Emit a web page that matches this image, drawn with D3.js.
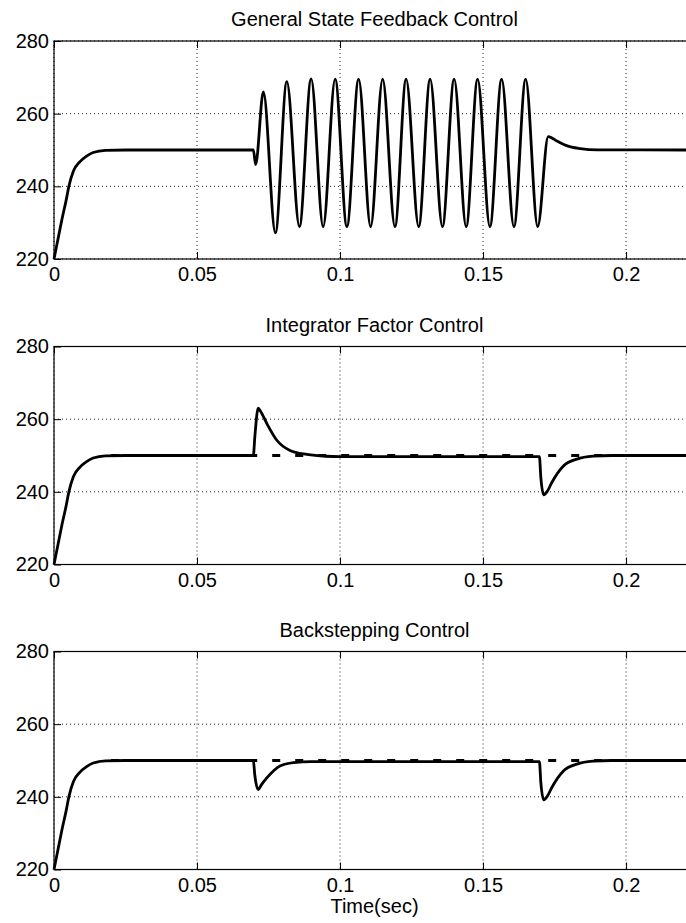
<!DOCTYPE html>
<html>
<head>
<meta charset="utf-8">
<script src="https://cdn.jsdelivr.net/npm/d3@7"></script>
<style>
  body { margin: 0; background: #fff; }
  svg { display: block; font-family: "Liberation Sans", Arial, sans-serif; }
</style>
</head>
<body>
<script>
// chart texts and ticks
var titles = ["General State Feedback Control", "Integrator Factor Control", "Backstepping Control"];
var xLabel = "Time(sec)";
var xTicks = [0, 0.05, 0.1, 0.15, 0.2];
var yTicks = [220, 240, 260, 280];

// reference voltage (dashed line), once the start-up is over  [time, value]
var refLine = [[0.02, 250], [0.225, 250]];

// start-up transient, the same in all three runs  [time, value]
var riseCurve = [
    [0, 220], [0.0014, 225.5], [0.0028, 231], [0.0042, 236], [0.0052, 240],
    [0.0068, 244.2], [0.0091, 246.8], [0.0114, 248.3], [0.0137, 249.3],
    [0.018, 249.9], [0.025, 250]
];

// general state feedback: sustained oscillation between 0.07 and 0.17
var stateFeedback = riseCurve.concat([
    [0.0697, 250], [0.0705, 246], [0.0732, 266], [0.0774, 227.2],
    [0.0814, 268.8], [0.0858, 228.9], [0.0899, 269.6], [0.0941, 228.9],
    [0.0983, 269.5], [0.1024, 228.9], [0.1065, 269.5], [0.1107, 228.9],
    [0.1149, 269.5], [0.1192, 228.9], [0.1231, 269.5], [0.1275, 228.9],
    [0.1315, 269.5], [0.1358, 228.9], [0.1399, 269.5], [0.1441, 228.9],
    [0.1481, 269.5], [0.1524, 228.9], [0.1565, 269.5], [0.1608, 228.9],
    [0.1649, 269.5], [0.1691, 228.9], [0.1728, 253.7], [0.176, 252.4],
    [0.1792, 251.2], [0.184, 250.4], [0.19, 250.05], [0.225, 250]
]);

// integrator factor: overshoot at 0.07, undershoot at 0.17
var integratorFactor = riseCurve.concat([
    [0.0697, 250], [0.0702, 255], [0.0714, 263], [0.0722, 262.2],
    [0.0744, 258.8], [0.0779, 254.2], [0.0825, 251.4], [0.0884, 250.3],
    [0.095, 249.8], [0.1, 249.7], [0.1697, 249.7], [0.1702, 244],
    [0.1712, 239.2], [0.1725, 240.2], [0.174, 242.5], [0.1781, 247.1],
    [0.1828, 249], [0.1885, 249.8], [0.195, 250], [0.225, 250]
]);

// backstepping: two undershoots
var backstepping = riseCurve.concat([
    [0.0697, 250], [0.0702, 246], [0.0714, 242], [0.0725, 243.3],
    [0.0744, 245.2], [0.079, 248.5], [0.0837, 249.4], [0.09, 249.7],
    [0.1697, 249.7], [0.1702, 244], [0.1712, 239.2], [0.1725, 240.2],
    [0.174, 242.5], [0.1781, 247.1], [0.1828, 249], [0.1885, 249.8],
    [0.195, 250], [0.225, 250]
]);

var series = [stateFeedback, integratorFactor, backstepping];
// the first plot shows no reference trace
var references = [null, refLine, refLine];

// layout properties
var p = {
    width: 686,
    height: 923,
    left: 54,
    right: 695,          // right border falls just outside the picture
    tops: [41, 346.5, 651.5],
    plotHeight: 218,
    xMax: 0.2241,
    font: 20,
    tickLen: 7,
    lineWidth: 2.8,
};

var svg = d3.select("body").append("svg")
    .attr("width", p.width)
    .attr("height", p.height);

svg.append("rect").attr("width", p.width).attr("height", p.height).attr("fill", "#fff");

var x = d3.scaleLinear().domain([0, p.xMax]).range([p.left, p.right]);

var line = d3.line()
    .x(function(d) { return x(d[0]); })
    .curve(d3.curveMonotoneX);

series.forEach(function(data, i) {
    var top = p.tops[i];
    var bottom = top + p.plotHeight;
    var y = d3.scaleLinear().domain([220, 280]).range([bottom, top]);
    var g = svg.append("g");

    // dotted grid
    g.selectAll(".gx").data(xTicks).enter().append("line")
        .attr("x1", function(d) { return x(d); }).attr("x2", function(d) { return x(d); })
        .attr("y1", top).attr("y2", bottom)
        .attr("stroke", "#222").attr("stroke-width", 1).attr("stroke-dasharray", "1,3");
    g.selectAll(".gy").data(yTicks).enter().append("line")
        .attr("x1", p.left).attr("x2", p.right)
        .attr("y1", function(d) { return y(d); }).attr("y2", function(d) { return y(d); })
        .attr("stroke", "#222").attr("stroke-width", 1).attr("stroke-dasharray", "1,3");

    // reference and response
    line.y(function(d) { return y(d[1]); });
    if (references[i]) {
        g.append("path")
            .attr("d", line(references[i]))
            .attr("fill", "none").attr("stroke", "#000").attr("stroke-width", p.lineWidth)
            .attr("stroke-dasharray", "8,15");
    }
    g.append("path")
        .attr("d", line(data))
        .attr("fill", "none").attr("stroke", "#000").attr("stroke-width", p.lineWidth)
        .attr("stroke-linejoin", "round");

    // axes with inward ticks
    g.append("g").attr("transform", "translate(0," + bottom + ")")
        .call(d3.axisBottom(x).tickValues(xTicks).tickSize(-p.tickLen).tickSizeOuter(0)
            .tickPadding(8).tickFormat(function(d) { return String(d); }));
    g.append("g").attr("transform", "translate(0," + top + ")")
        .call(d3.axisTop(x).tickValues(xTicks).tickSize(-p.tickLen).tickSizeOuter(0).tickFormat(""));
    g.append("g").attr("transform", "translate(" + p.left + ",0)")
        .call(d3.axisLeft(y).tickValues(yTicks).tickSize(-p.tickLen).tickSizeOuter(0).tickPadding(5));

    g.selectAll(".domain").remove();
    g.selectAll(".tick line").attr("stroke", "#000");
    g.selectAll(".tick text")
        .attr("fill", "#000")
        .style("font-size", p.font + "px")
        .style("font-family", "'Liberation Sans', Arial, sans-serif");

    // axes box
    g.append("rect")
        .attr("x", p.left).attr("y", top)
        .attr("width", p.right - p.left).attr("height", p.plotHeight)
        .attr("fill", "none").attr("stroke", "#000").attr("stroke-width", 1.2);

    // title
    g.append("text")
        .attr("x", (p.left + p.right) / 2).attr("y", top - 15)
        .attr("text-anchor", "middle")
        .style("font-size", p.font + "px")
        .text(titles[i]);
});

// x label under last plot
svg.append("text")
    .attr("x", (p.left + p.right) / 2).attr("y", 912.5)
    .attr("text-anchor", "middle")
    .style("font-size", p.font + "px")
    .text(xLabel);
</script>
</body>
</html>
